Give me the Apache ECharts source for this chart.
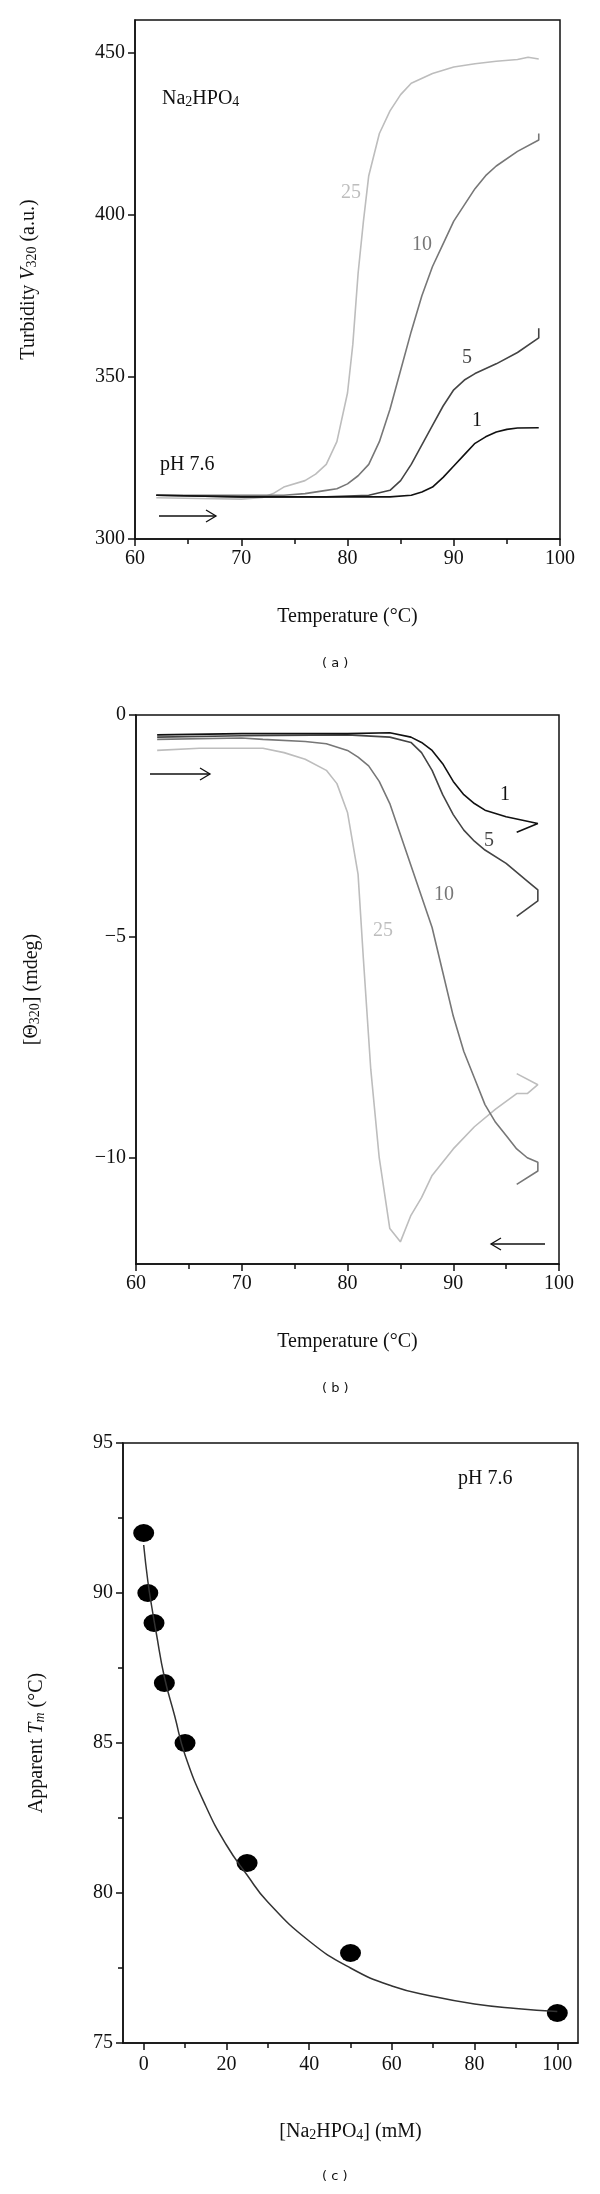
<!DOCTYPE html>
<html>
<head>
<meta charset="utf-8">
<script src="https://cdn.jsdelivr.net/npm/echarts@6/dist/echarts.min.js"></script>
<style>html,body{margin:0;padding:0;background:#fff}#main{width:600px;height:2194px}</style>
</head>
<body>
<div id="main"></div>
<script>
// panel (a) turbidity vs temperature, one [T, V] list per Na2HPO4 concentration
const turb1 = [[62,313.5],[70,313],[80,313],[84,313],[86,313.5],[87,314.5],[88,316],[89,319],[90,322.5],[91,326],[92,329.5],[93,331.5],[94,333],[95,333.8],[96,334.2],[98,334.3]];
const turb5 = [[62,313.5],[70,313],[78,313],[82,313.5],[84,315],[85,318],[86,323],[87,329],[88,335],[89,341],[90,346],[91,349],[92,351],[94,354],[96,357.5],[98,362],[98,365]];
const turb10 = [[62,313.5],[70,313.5],[74,313.5],[76,314],[78,315],[79,315.5],[80,317],[81,319.5],[82,323],[83,330],[84,340],[85,352],[86,364],[87,375],[88,384],[89,391],[90,398],[91,403],[92,408],[93,412],[94,415],[96,419.5],[98,423],[98,425]];
const turb25 = [[62,312.7],[66,312.5],[70,312.3],[72,312.8],[73,314],[74,316],[76,318],[77,320],[78,323],[79,330],[80,345],[80.5,360],[81,382],[81.5,398],[82,412],[83,425],[84,432],[85,437],[86,440.5],[88,443.5],[90,445.5],[92,446.5],[94,447.3],[96,447.8],[97,448.5],[98,448]];

// panel (b) ellipticity at 320 nm vs temperature
const ell1 = [[62,-0.45],[70,-0.42],[80,-0.42],[84,-0.4],[86,-0.5],[87,-0.62],[88,-0.8],[89,-1.1],[90,-1.5],[91,-1.8],[92,-2.0],[93,-2.15],[95,-2.3],[98,-2.45],[96,-2.65]];
const ell5 = [[62,-0.5],[70,-0.47],[80,-0.45],[84,-0.5],[86,-0.62],[87,-0.85],[88,-1.25],[89,-1.8],[90,-2.25],[91,-2.6],[92,-2.85],[93,-3.05],[95,-3.35],[97,-3.75],[98,-3.95],[98,-4.2],[96,-4.55]];
const ell10 = [[62,-0.55],[70,-0.52],[72,-0.55],[76,-0.6],[78,-0.65],[80,-0.8],[81,-0.95],[82,-1.15],[83,-1.5],[84,-2.0],[85,-2.7],[86,-3.4],[87,-4.1],[88,-4.8],[89,-5.8],[90,-6.8],[91,-7.6],[92,-8.2],[93,-8.8],[94,-9.2],[95,-9.5],[96,-9.8],[97,-10.0],[98,-10.1],[98,-10.3],[96,-10.6]];
const ell25 = [[62,-0.8],[66,-0.75],[70,-0.75],[72,-0.75],[74,-0.85],[76,-1.0],[78,-1.25],[79,-1.55],[80,-2.2],[81,-3.6],[81.5,-5.5],[82.2,-8.0],[83,-10.0],[84,-11.6],[85,-11.9],[86,-11.3],[87,-10.9],[88,-10.4],[90,-9.8],[92,-9.3],[94,-8.9],[96,-8.55],[97,-8.55],[98,-8.35],[96,-8.1]];

// panel (c) apparent Tm vs [Na2HPO4]
const concMM = [0, 1, 2.5, 5, 10, 25, 50, 100];
const tmValues = [92, 90, 89, 87, 85, 81, 78, 76];
const fitConc = [0, 1, 2, 3, 5, 7.5, 10, 15, 20, 25, 30, 40, 50, 60, 70, 80, 90, 100];
const fitTm = [91.6, 90.4, 89.5, 88.7, 87.2, 85.9, 84.6, 82.9, 81.6, 80.6, 79.7, 78.4, 77.5, 76.9, 76.55, 76.3, 76.15, 76.05];

const thetaTicks = [0, -5, -10];
const concTicks = [0, 20, 40, 60, 80, 100];
const concMinor = [10, 30, 50, 70, 90];

const serif = '"Liberation Serif", "DejaVu Serif", serif';
const ink = '#111';
const txt = {fontFamily: serif, fontSize: 20, color: ink};

function baseAxis(extra) {
  return Object.assign({
    type: 'value',
    axisLine: {show: true, onZero: false, lineStyle: {color: ink, width: 1.5}},
    axisTick: {show: true, inside: false, length: 7, lineStyle: {color: ink, width: 1.5}},
    axisLabel: Object.assign({margin: 10}, txt),
    splitLine: {show: false},
    nameTextStyle: Object.assign({}, txt),
    nameLocation: 'middle'
  }, extra);
}

const sub = {sub: {fontFamily: serif, fontSize: 14, color: ink, verticalAlign: 'bottom', padding: [7, 0, 0, 0]},
             it: {fontFamily: serif, fontSize: 20, color: ink, fontStyle: 'italic'}};

const chart = echarts.init(document.getElementById('main'), null, {renderer: 'canvas'});

function line(data, color, xi) {
  return {type: 'line', xAxisIndex: xi, yAxisIndex: xi, data: data, showSymbol: false, symbol: 'none',
          lineStyle: {color: color, width: 1.6}};
}

chart.setOption({
  animation: false,
  grid: [
    {left: 135, top: 20, width: 425, height: 519, show: true, borderColor: ink, borderWidth: 1.5},
    {left: 136, top: 715, width: 423, height: 549, show: true, borderColor: ink, borderWidth: 1.5},
    {left: 123, top: 1443, width: 455, height: 600, show: true, borderColor: ink, borderWidth: 1.5}
  ],
  xAxis: [
    baseAxis({gridIndex: 0, min: 60, max: 100, interval: 10, name: 'Temperature (\u00b0C)', nameGap: 68,
      minorTick: {show: true, splitNumber: 2, length: 5, lineStyle: {color: ink, width: 1.5}}}),
    baseAxis({gridIndex: 1, min: 60, max: 100, interval: 10, name: 'Temperature (\u00b0C)', nameGap: 68,
      minorTick: {show: true, splitNumber: 2, length: 5, lineStyle: {color: ink, width: 1.5}}}),
    baseAxis({gridIndex: 2, min: -5, max: 105, position: 'bottom', name: '[Na{sub|2}HPO{sub|4}] (mM)', nameGap: 78,
      nameTextStyle: Object.assign({rich: sub}, txt),
      axisTick: {show: true, length: 7, customValues: concTicks, lineStyle: {color: ink, width: 1.5}},
      axisLabel: Object.assign({margin: 12, customValues: concTicks}, txt)}),
    baseAxis({gridIndex: 2, min: -5, max: 105, position: 'bottom', axisLine: {show: false, onZero: false},
      axisTick: {show: true, length: 5, customValues: concMinor, lineStyle: {color: ink, width: 1.5}},
      axisLabel: {show: false}})
  ],
  yAxis: [
    baseAxis({gridIndex: 0, min: 300, max: 460, interval: 50, name: 'Turbidity {it|V}{sub|320} (a.u.)', nameGap: 96,
      nameTextStyle: Object.assign({rich: sub}, txt),
      axisLabel: Object.assign({margin: 10, customValues: [300, 350, 400, 450]}, txt),
      axisTick: {show: true, length: 7, customValues: [300, 350, 400, 450], lineStyle: {color: ink, width: 1.5}}}),
    baseAxis({gridIndex: 1, min: -12.4, max: 0, name: '[\u0398{sub|320}] (mdeg)', nameGap: 94,
      nameTextStyle: Object.assign({rich: sub}, txt),
      axisLabel: Object.assign({margin: 10, customValues: thetaTicks,
        formatter: v => v < 0 ? '\u2212' + Math.abs(v) : String(v)}, txt),
      axisTick: {show: true, length: 7, customValues: thetaTicks, lineStyle: {color: ink, width: 1.5}}}),
    baseAxis({gridIndex: 2, min: 75, max: 95, interval: 5, position: 'left', name: 'Apparent {it|T}{subi|m} (\u00b0C)', nameGap: 76,
      nameTextStyle: Object.assign({rich: Object.assign({subi: {fontFamily: serif, fontSize: 14, color: ink, fontStyle: 'italic', verticalAlign: 'bottom', padding: [7, 0, 0, 0]}}, sub)}, txt),
      minorTick: {show: true, splitNumber: 2, length: 5, lineStyle: {color: ink, width: 1.5}}})
  ],
  series: [
    line(turb25, '#bdbdbd', 0), line(turb10, '#777', 0), line(turb5, '#444', 0), line(turb1, '#111', 0),
    line(ell25, '#bdbdbd', 1), line(ell10, '#777', 1), line(ell5, '#444', 1), line(ell1, '#111', 1),
    {type: 'line', xAxisIndex: 2, yAxisIndex: 2, data: fitConc.map((c, i) => [c, fitTm[i]]), smooth: true,
     symbol: 'none', lineStyle: {color: '#333', width: 1.5}},
    {type: 'scatter', xAxisIndex: 2, yAxisIndex: 2, data: concMM.map((c, i) => [c, tmValues[i]]),
     symbol: 'circle', symbolSize: [21, 18], itemStyle: {color: '#000', opacity: 1}}
  ],
  graphic: [
    // panel a annotations
    {type: 'text', left: 162, top: 89, style: {text: 'Na{s|2}HPO{s|4}', font: '20px ' + serif, fill: ink,
      rich: {s: {fontFamily: serif, fontSize: 14, fill: ink, verticalAlign: 'bottom', padding: [7, 0, 0, 0]}}}},
    {type: 'text', left: 160, top: 455, style: {text: 'pH 7.6', font: '20px ' + serif, fill: ink}},
    {type: 'polyline', shape: {points: [[159, 516], [216, 516]]}, style: {stroke: ink, lineWidth: 1.3}},
    {type: 'polyline', shape: {points: [[206, 510], [216, 516], [206, 522]]}, style: {stroke: ink, fill: null, lineWidth: 1.3}},
    {type: 'text', left: 341, top: 183, style: {text: '25', font: '20px ' + serif, fill: '#bdbdbd'}},
    {type: 'text', left: 412, top: 235, style: {text: '10', font: '20px ' + serif, fill: '#777'}},
    {type: 'text', left: 462, top: 348, style: {text: '5', font: '20px ' + serif, fill: '#444'}},
    {type: 'text', left: 472, top: 411, style: {text: '1', font: '20px ' + serif, fill: ink}},
    {type: 'text', left: 322, top: 657, style: {text: '( a )', font: '13px "DejaVu Sans", sans-serif', fill: ink}},
    // panel b annotations
    {type: 'polyline', shape: {points: [[150, 774], [210, 774]]}, style: {stroke: ink, lineWidth: 1.3}},
    {type: 'polyline', shape: {points: [[200, 768], [210, 774], [200, 780]]}, style: {stroke: ink, fill: null, lineWidth: 1.3}},
    {type: 'polyline', shape: {points: [[491, 1244], [545, 1244]]}, style: {stroke: ink, lineWidth: 1.3}},
    {type: 'polyline', shape: {points: [[501, 1238], [491, 1244], [501, 1250]]}, style: {stroke: ink, fill: null, lineWidth: 1.3}},
    {type: 'text', left: 500, top: 785, style: {text: '1', font: '20px ' + serif, fill: ink}},
    {type: 'text', left: 484, top: 831, style: {text: '5', font: '20px ' + serif, fill: '#444'}},
    {type: 'text', left: 434, top: 885, style: {text: '10', font: '20px ' + serif, fill: '#777'}},
    {type: 'text', left: 373, top: 921, style: {text: '25', font: '20px ' + serif, fill: '#bdbdbd'}},
    {type: 'text', left: 322, top: 1382, style: {text: '( b )', font: '13px "DejaVu Sans", sans-serif', fill: ink}},
    // panel c annotations
    {type: 'text', left: 458, top: 1469, style: {text: 'pH 7.6', font: '20px ' + serif, fill: ink}},
    {type: 'text', left: 322, top: 2170, style: {text: '( c )', font: '13px "DejaVu Sans", sans-serif', fill: ink}}
  ]
});
</script>
</body>
</html>
